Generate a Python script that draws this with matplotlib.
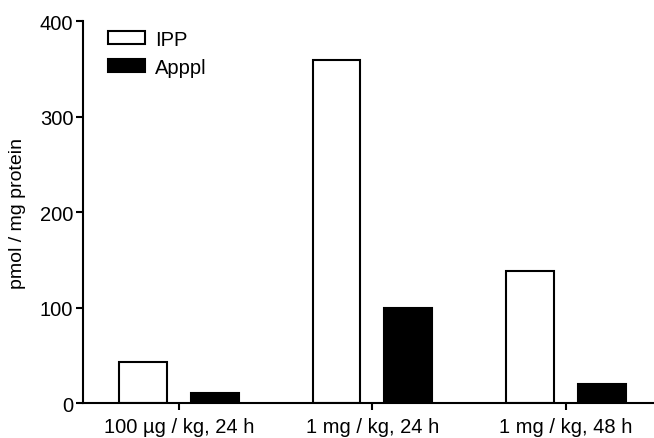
import numpy as np
import matplotlib.pyplot as plt

plt.rcParams['font.family'] = ['Liberation Sans', 'DejaVu Sans']

# Data
groups = ['100 µg / kg, 24 h', '1 mg / kg, 24 h', '1 mg / kg, 48 h']
ipp = [43, 359, 139]
apppl = [11, 100, 20]

x = np.arange(len(groups))
width = 0.248
offset = 0.186

fig = plt.figure(figsize=(6.54, 4.39), dpi=100)
ax = fig.add_axes([0.127, 0.0786, 0.873, 0.871])

ax.bar(x - offset, ipp, width, color='white', edgecolor='black', linewidth=1.5, label='IPP')
ax.bar(x + offset, apppl, width, color='black', edgecolor='black', linewidth=1.5, label='Apppl')

ax.set_xlim(-0.496, 2.455)
ax.set_ylim(0, 400)
ax.set_yticks([0, 100, 200, 300, 400])
ax.set_xticks(x)
ax.set_xticklabels(groups)
ax.set_ylabel('pmol / mg protein', fontsize=14, labelpad=10)

for s in ['top', 'right']:
    ax.spines[s].set_visible(False)
for s in ['left', 'bottom']:
    ax.spines[s].set_linewidth(1.5)
ax.tick_params(axis='both', width=1.5, length=5, labelsize=14.5)
ax.tick_params(axis='x', pad=5)
ax.tick_params(axis='y', pad=2)

ax.legend(loc='upper left', bbox_to_anchor=(0.026, 1.004), frameon=False, fontsize=14.5,
          handlelength=1.85, handleheight=0.65, labelspacing=0.45, handletextpad=0.5,
          borderpad=0)

fig.savefig('out.png', dpi=100)
